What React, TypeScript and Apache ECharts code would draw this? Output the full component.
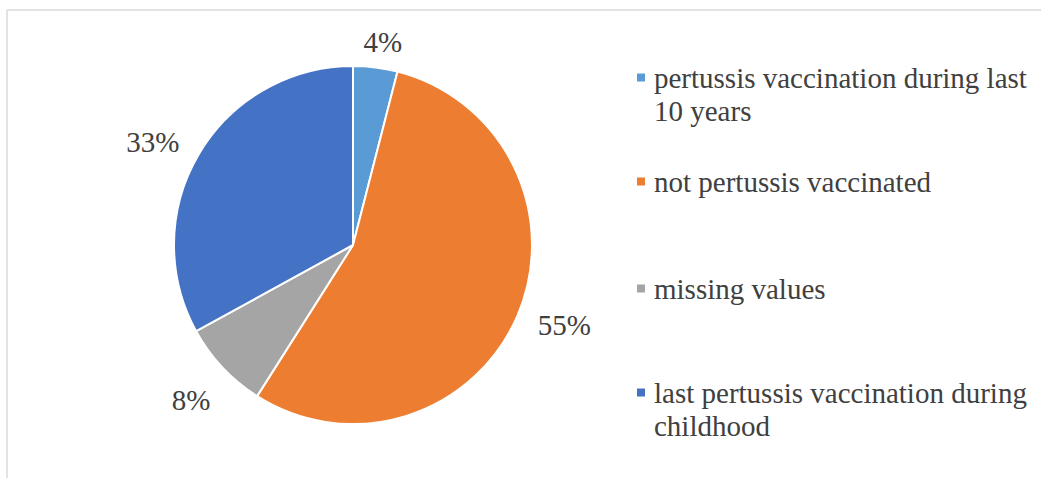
import React, { useEffect, useRef } from "react";
import * as echarts from "echarts";

const categories = [
  "pertussis vaccination during last 10 years",
  "not pertussis vaccinated",
  "missing values",
  "last pertussis vaccination during childhood",
];
const legendText = [
  "pertussis vaccination during last\n10 years",
  "not pertussis vaccinated",
  "missing values",
  "last pertussis vaccination during\nchildhood",
];
const values = [4, 55, 8, 33];
const colors = ["#5B9BD5", "#ED7D31", "#A5A5A5", "#4472C4"];

// layout constants
const CX = 353;
const CY = 245;
const R = 179;
const labelDistance = [205, 226, 224, 225];
const labelAngleNudge = [1.2, -2.6, -0.5, -3.4];
const legendTops = [28, 165, 272, 343];
const FONT = "Liberation Serif";

export default function App() {
  const ref = useRef<HTMLDivElement>(null);
  useEffect(() => {
    if (!ref.current) return;
    const chart = echarts.init(ref.current, undefined, { renderer: "svg" });
    const total = values.reduce((a, b) => a + b, 0);
    const legends = categories.map((name, i) => {
      const twoLine = legendText[i].includes("\n");
      return {
        show: true,
        orient: "vertical",
        left: 635,
        top: legendTops[i],
        padding: 0,
        itemWidth: 10,
        itemHeight: 10,
        icon: "rect",
        selectedMode: false,
        data: [name],
        formatter: () => (twoLine ? "\n" + legendText[i] : legendText[i]),
        textStyle: {
          fontFamily: FONT,
          fontSize: 29,
          lineHeight: 33,
          color: "#404040",
          padding: [0, 0, 0, 3],
        },
      };
    });
    chart.setOption({
      animation: false,
      color: colors,
      legend: legends,
      graphic: [
        {
          type: "line",
          shape: { x1: 7, y1: 10, x2: 1041, y2: 10 },
          style: { stroke: "#d9d9d9", lineWidth: 1.5 },
          silent: true,
        },
        {
          type: "line",
          shape: { x1: 7, y1: 10, x2: 7, y2: 478 },
          style: { stroke: "#d9d9d9", lineWidth: 1.5 },
          silent: true,
        },
      ],
      series: [
        {
          type: "pie",
          center: [CX, CY],
          radius: R,
          startAngle: 90,
          clockwise: true,
          data: categories.map((name, i) => ({ name, value: values[i] })),
          itemStyle: { borderColor: "#ffffff", borderWidth: 2 },
          label: {
            show: true,
            position: "outside",
            formatter: "{c}%",
            fontFamily: FONT,
            fontSize: 29,
            color: "#404040",
          },
          labelLine: { show: false },
          labelLayout: (p: any) => {
            const i = p.dataIndex;
            const before = values.slice(0, i).reduce((a, b) => a + b, 0);
            const mid =
              ((before + values[i] / 2) / total) * Math.PI * 2 +
              (labelAngleNudge[i] * Math.PI) / 180;
            const d = labelDistance[i];
            return {
              x: CX + d * Math.sin(mid),
              y: CY - d * Math.cos(mid),
              align: "center",
              verticalAlign: "middle",
            };
          },
          emphasis: { disabled: true },
        },
      ],
    });
    return () => chart.dispose();
  }, []);
  return (
    <div
      ref={ref}
      style={{ position: "absolute", left: 0, top: 0, width: 1041, height: 478, background: "#fff" }}
    />
  );
}
